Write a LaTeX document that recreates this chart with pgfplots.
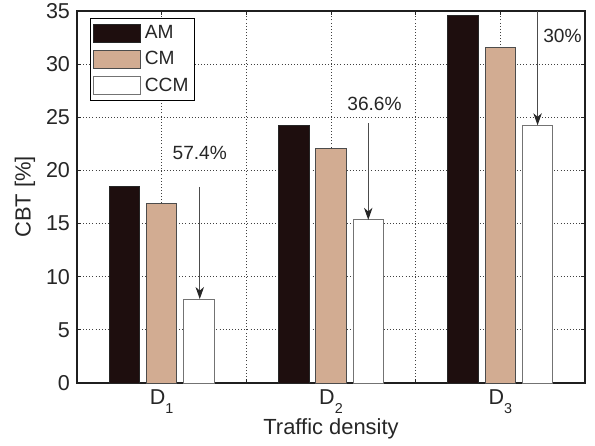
\documentclass[border=0pt]{standalone}
\usepackage{fontspec}
\setmainfont{Liberation Sans}
\usepackage{pgfplots}
\pgfplotsset{compat=1.18}
\usetikzlibrary{arrows.meta}
\definecolor{amc}{RGB}{30,14,14}
\definecolor{cmc}{RGB}{210,172,146}
\newcommand{\sub}[1]{\raisebox{-0.4em}{\fontsize{7.2}{8}\selectfont #1}}
\begin{document}
\begin{tikzpicture}
\begin{axis}[
  scale only axis, width=254bp, height=186bp,
  xmin=0.5, xmax=3.5, ymin=0, ymax=35,
  ybar, bar width=0.18,
  xtick={1,1.5,2,2.5,3},
  xticklabels={D\sub{1},,D\sub{2},,D\sub{3}},
  ytick={0,5,...,35},
  tick align=inside, major tick length=2bp,
  tick style={black!85, line width=0.5bp},
  grid=major,
  grid style={black!75, line width=0.45bp, dash pattern=on 0.45bp off 1.1bp},
  axis line style={black!88, line width=0.8bp},
  /pgf/number format/assume math mode=true,
  tick label style={font=\fontsize{10.8}{12}\selectfont, black!85},
  label style={font=\fontsize{11}{12}\selectfont, black!85},
  xlabel={Traffic density},
  ylabel={CBT [\%]},
  xlabel style={at={(axis description cs:0.5,-0.122)}, anchor=center},
  ylabel style={at={(axis description cs:-0.1025,0.5)}, anchor=center},
  legend style={at={(0.0256,0.981)}, anchor=north west, draw=black, line width=0.5bp,
    font=\fontsize{9.6}{11}\selectfont, inner sep=1.2bp, row sep=1.1bp,
    cells={anchor=west, text=black!85}},
  legend image code/.code={\draw[#1] (0bp,-4.5bp) rectangle (23.5bp,4.5bp);},
]
\addplot[fill=amc, draw=black!85, line width=0.45bp, bar shift=-0.22]
  coordinates {(1,18.5) (2,24.2) (3,34.6)};
\addplot[fill=cmc, draw=black!70, line width=0.45bp, bar shift=0]
  coordinates {(1,16.9) (2,22.1) (3,31.6)};
\addplot[fill=white, draw=black!55, line width=0.5bp, bar shift=0.22]
  coordinates {(1,7.9) (2,15.35) (3,24.25)};
\legend{AM,CM,CCM}

\draw[black!70, line width=0.5bp, -{Stealth[length=6bp, width=4.2bp, inset=1.8bp, black!85]}]
  (axis cs:1.225,18.45) -- (axis cs:1.225,7.9);
\draw[black!70, line width=0.5bp, -{Stealth[length=6bp, width=4.2bp, inset=1.8bp, black!85]}]
  (axis cs:2.22,24.45) -- (axis cs:2.22,15.35);
\draw[black!70, line width=0.5bp, -{Stealth[length=6bp, width=4.2bp, inset=1.8bp, black!85]}]
  (axis cs:3.22,35) -- (axis cs:3.22,24.25);
\node[font=\fontsize{9.6}{11}\selectfont, text=black!85] at (axis cs:1.225,21.6) {57.4\%};
\node[font=\fontsize{9.6}{11}\selectfont, text=black!85] at (axis cs:2.257,26.25) {36.6\%};
\node[font=\fontsize{9.6}{11}\selectfont, text=black!85] at (axis cs:3.367,32.7) {30\%};
\end{axis}
\pgfresetboundingbox
\path ([shift={(-38.5bp,-31.5bp)}]current axis.south west) rectangle ([shift={(5bp,5.5bp)}]current axis.north east);
\end{tikzpicture}
\end{document}
